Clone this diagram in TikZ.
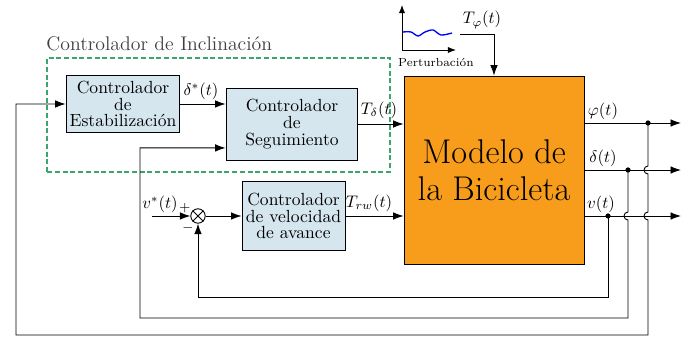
\documentclass[tikz,border=0pt]{standalone}
\usepackage{tikz}
\usepackage{amsmath}
\usetikzlibrary{positioning, arrows.meta}

\definecolor{ctrlblue}{HTML}{D6E6EE}
\definecolor{bikeorange}{HTML}{F89D1B}
\definecolor{incgreen}{HTML}{3BA56C}

\begin{document}
\begin{tikzpicture}[
  x=0.021cm, y=0.021cm,
  line width=0.55pt,
  >={Latex[length=2.2mm, width=1.6mm]},
  box/.style   ={draw, fill=ctrlblue, align=center, inner sep=1pt, font=\fontsize{10.5}{10}\selectfont},
  plant/.style ={draw, fill=bikeorange, align=center, font=\fontsize{20.5}{22}\selectfont},
  sig/.style   ={inner sep=1pt},
  arr/.style   ={->},
  dot/.style   ={circle, fill, inner sep=1.1pt},
]
\useasboundingbox (0,0) rectangle (693,338);

% ---- controllers ----
\node[box, minimum width=68pt, minimum height=34.6pt] (estab)  at (123,234) {Controlador\\de\\Estabilización};
\node[box, minimum width=78.8pt, minimum height=43pt] (seguim) at (292,214) {Controlador\\de\\Seguimiento};
\node[box, minimum width=61.5pt, minimum height=41.2pt] (vel)  at (293.5,122) {Controlador\\de velocidad\\de avance};

% ---- bicycle model ----
\node[plant, minimum width=107.5pt, minimum height=112.8pt] (modelo) at (494,167.5) {Modelo de\\la Bicicleta};

% ---- lean controller frame ----
\draw[incgreen, line width=1pt, dash pattern=on 3pt off 1.6pt] (47,166) rectangle (390,280);
\node[anchor=base west, inner sep=0, text=black!75, font=\fontsize{11.8}{14}\selectfont] (incl) at (46,287) {Controlador de Inclinación};

% ---- summing junction ----
\node[draw, circle, minimum size=8.6pt, inner sep=0] (suma) at (198,122) {};
\draw (suma.north west) -- (suma.south east);
\draw (suma.north east) -- (suma.south west);
\coordinate (vref) at (152,122);
\draw[arr] (vref) -- (suma.west);
\node[sig] (vlab) at (160,134) {$v^*(t)$};
\node[sig, font=\footnotesize] (plus)  at (185,130) {$+$};
\node[sig, font=\footnotesize] (minus) at (188,110) {$-$};
\draw[arr] (suma.east) -- (vel.west);

% ---- forward path ----
\draw[arr] (estab.east) -- (estab.east -| seguim.west);
\node[sig] (dref) at (201,247) {$\delta^*(t)$};
\draw[arr] (seguim.east) -- (seguim.east -| modelo.west);
\node[sig] (tdel) at (379,228) {$T_\delta(t)$};
\draw[arr] (vel.east) -- (vel.east -| modelo.west);
\node[sig] (trw) at (369,135) {$T_{rw}(t)$};

% ---- disturbance ----
\coordinate (orig) at (402,288);
\coordinate (ytop) at (402,333);
\coordinate (xend) at (456,288);
\draw[->, >={Latex[length=1.7mm, width=1.3mm]}] (orig) -- (ytop);
\draw[->, >={Latex[length=1.7mm, width=1.3mm]}] (orig) -- (xend);
\draw[blue, line width=0.8pt] plot[smooth] coordinates {(403,306) (411,306) (418,302) (425,306) (433,308) (441,303) (452,305)};
\node[sig, font=\scriptsize] (pert) at (436,276) {Perturbación};
\node[sig] (tphi) at (482,318) {$T_\varphi(t)$};
\coordinate (dist) at (460,304);
\draw[arr] (dist) -| (modelo.north);

% ---- outputs ----
\coordinate (phiend) at (681,215);
\coordinate (delend) at (681,168);
\coordinate (vend)   at (681,122);
\draw[arr] (modelo.east |- phiend) -- (phiend);
\draw[arr] (modelo.east |- delend) -- (delend);
\draw[arr] (modelo.east |- vend) -- (vend);
\node[sig] (philab) at (603,227) {$\varphi(t)$};
\node[sig] (dellab) at (603,180) {$\delta(t)$};
\node[sig] (vlab2)  at (601,134) {$v(t)$};

% ---- feedback ----
\node[dot] (pphi) at (648,215) {};
\node[dot] (pdel) at (628,168) {};
\node[dot] (pv)   at (608,122) {};
\coordinate (c1) at (648,3);
\coordinate (c2) at (16,3);
\coordinate (c3) at (628,20);
\coordinate (c4) at (140,20);
\coordinate (c5) at (608,41);
\coordinate (c6) at (198,41);

\draw[arr] (pphi.center) -- (648,172) arc[start angle=90, end angle=270, radius=4]
  -- (648,126) arc[start angle=90, end angle=270, radius=4]
  -- (c1) -- (c2) |- (estab.west);
\draw[arr] (pdel.center) -- (628,126) arc[start angle=90, end angle=270, radius=4]
  -- (c3) -- (c4) |- ([yshift=-14.3pt]seguim.west);
\draw[arr] (pv.center) -- (c5) -- (c6) -- (suma.south);

\end{tikzpicture}
\end{document}
